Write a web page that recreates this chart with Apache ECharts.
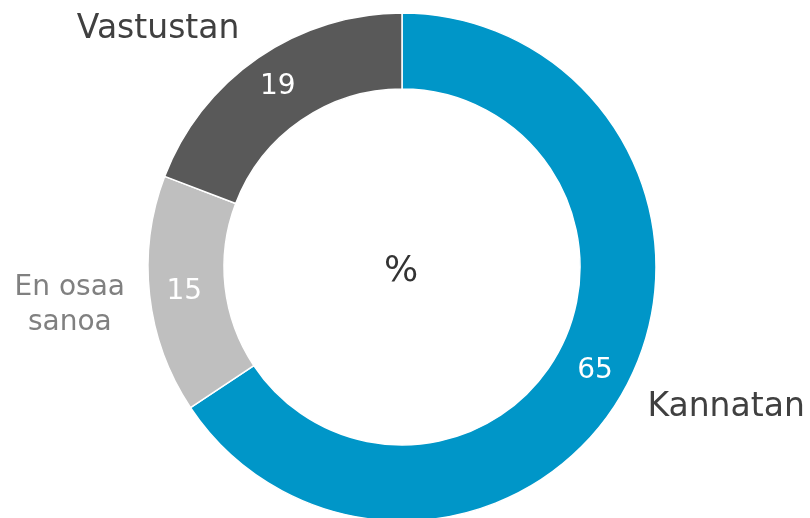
<!DOCTYPE html>
<html>
<head>
<meta charset="utf-8">
<script src="https://cdn.jsdelivr.net/npm/echarts@6/dist/echarts.min.js"></script>
<style>
  html, body { margin: 0; padding: 0; background: #fff; }
  #chart { width: 810px; height: 518px; }
</style>
</head>
<body>
<div id="chart"></div>
<script>
const categories = ['Kannatan', 'En osaa\nsanoa', 'Vastustan']
const values = [65, 15, 19]
const colors = ['#0096C8', '#BFBFBF', '#595959']
const nameColors = ['#404040', '#808080', '#404040']
// label tweaks for the outer names [dx, dy, align]
const nameOffsets = [[-17, 3, 'left'], [-37, 6, 'center'], [8, 3, 'right']]

const chart = echarts.init(document.getElementById('chart'))

const data = categories.map((c, i) => ({
  name: c,
  value: values[i],
  itemStyle: { color: colors[i] },
}))

const options = {
  animation: false,
  title: {
    text: '%',
    left: 396,
    top: 267,
    textAlign: 'center',
    textVerticalAlign: 'middle',
    textStyle: { fontFamily: 'DejaVu Sans', fontSize: 36, fontWeight: 'normal', color: '#333' },
  },
  series: [
    {
      type: 'pie',
      center: [402, 267],
      radius: [178, 254],
      startAngle: 90,
      clockwise: true,
      silent: true,
      itemStyle: { borderColor: '#fff', borderWidth: 1.5 },
      label: {
        show: true,
        position: 'inside',
        formatter: '{c}',
        color: '#fff',
        fontFamily: 'DejaVu Sans',
        fontSize: 28,
      },
      labelLine: { show: false },
      data,
    },
    {
      // outer names only
      type: 'pie',
      center: [402, 267],
      radius: [178, 254],
      startAngle: 90,
      clockwise: true,
      silent: true,
      itemStyle: { color: 'transparent' },
      label: {
        show: true,
        position: 'outside',
        alignTo: 'none',
        overflow: 'none',
        bleedMargin: 0,
        formatter: '{b}',
        fontFamily: 'DejaVu Sans',
        fontSize: 33,
        lineHeight: 35,
      },
      labelLine: { show: false, length: 38, length2: 0 },
      labelLayout: (p) => {
        const o = nameOffsets[p.dataIndex]
        return { dx: o[0], dy: o[1], align: o[2] }
      },
      data: categories.map((c, i) => ({
        name: c,
        value: values[i],
        label: { color: nameColors[i], fontSize: i === 1 ? 28 : 33, overflow: 'none' },
      })),
    },
  ],
}

chart.setOption(options, true)
</script>
</body>
</html>
